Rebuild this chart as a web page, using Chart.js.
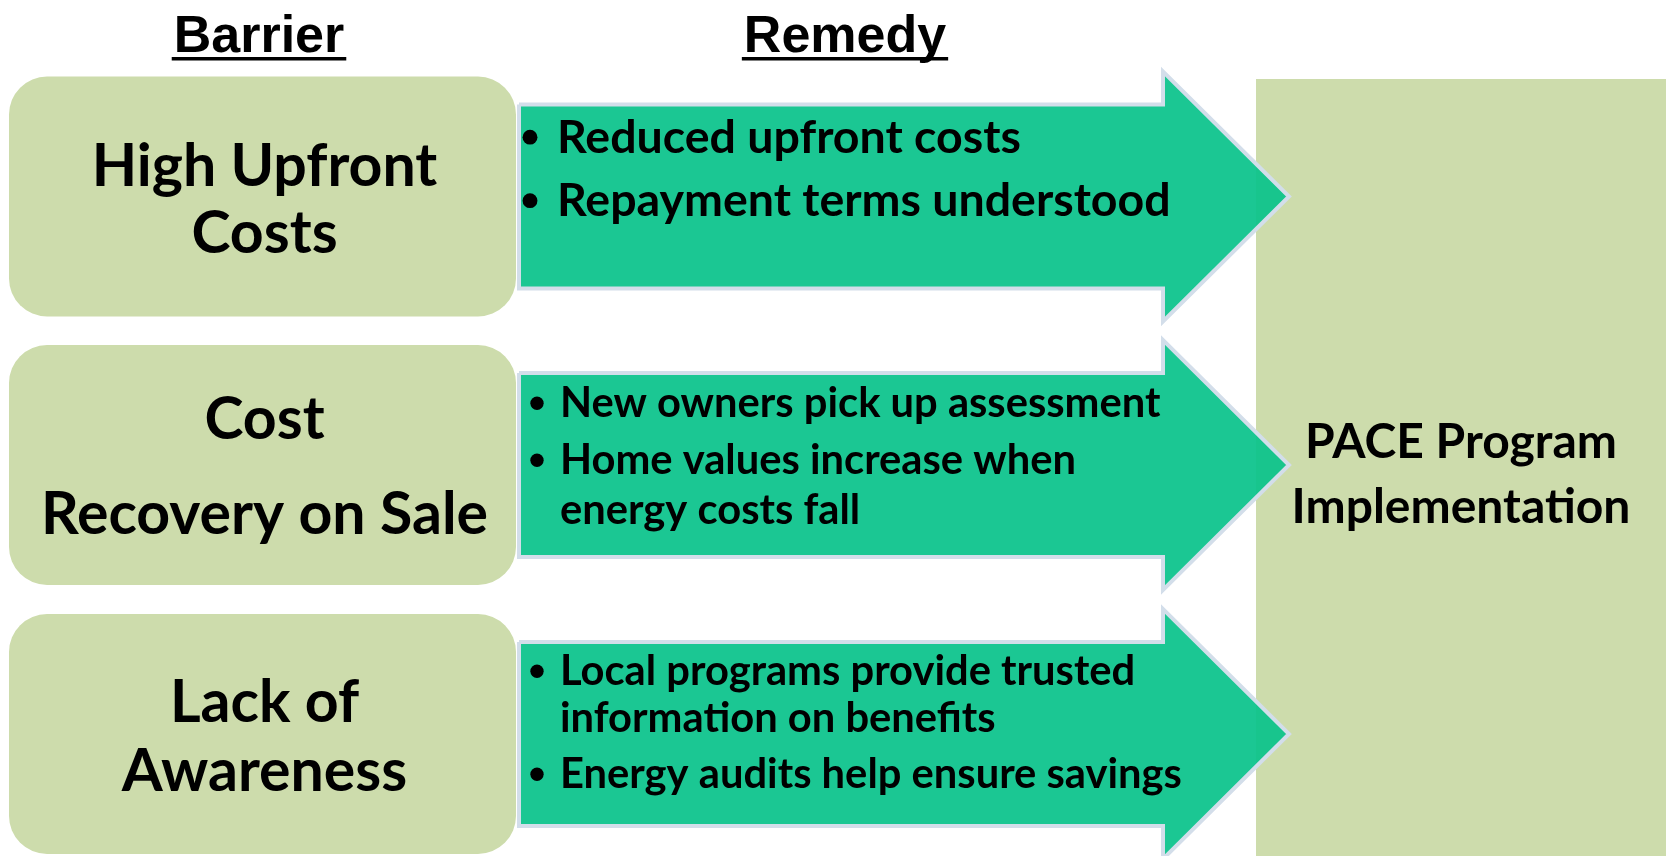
<!DOCTYPE html>
<html>
<head>
<meta charset="utf-8">
<script src="https://cdn.jsdelivr.net/npm/chart.js@4.4.1/dist/chart.umd.min.js"></script>
<style>
  html, body { margin: 0; padding: 0; background: #fff; }
  #diagram { display: block; }
</style>
</head>
<body>
<canvas id="diagram" width="1666" height="856"></canvas>
<script>
// column headers, barriers (left boxes), remedies (arrows), outcome (right box)
const headers = ['Barrier', 'Remedy'];
const barriers = [
  ['High Upfront', 'Costs'],
  ['Cost', 'Recovery on Sale'],
  ['Lack of', 'Awareness']
];
const remedies = [
  [['Reduced upfront costs'], ['Repayment terms understood']],
  [['New owners pick up assessment'], ['Home values increase when', 'energy costs fall']],
  [['Local programs provide trusted', 'information on benefits'], ['Energy audits help ensure savings']]
];
const outcome = ['PACE Program', 'Implementation'];

// layout in canvas units (x: 0..1666, y: 0..856 top-down)
const layout = {
  rowCenters: [196.5, 465, 734],
  box: { x0: 9, x1: 516, half: 120, r: 38 },
  arrow: { x0: 519, base: 1163, tip: 1289, shaft: 92, head: 125 },
  outcomeBox: { x0: 1256, x1: 1666, y0: 79, y1: 856 },
  headerX: [259, 845], headerBase: 52,
  barrierFont: 59,
  barrierBase: [[-10.5, 56.5], [-26, 69], [-12, 57]],
  remedyBase: [[-44, 19.5], [-48, 9, 59], [-49, -2, 54]],
  remedyFont: [46.5, 41.7, 41.7],
  bulletX: [530, 537, 537], textX: [557, 560, 560],
  outcomeFont: 48,
  outcomeBase: [458, 523]
};

const colors = {
  box: '#CDDCAC',
  arrow: 'rgba(10,195,139,0.93)',
  arrowEdge: '#D3DEEA',
  text: '#000000'
};

const bodyFont = '"Lato", "Open Sans", sans-serif';

function arrowPoints(c) {
  const a = layout.arrow;
  return [
    { x: a.x0, y: c - a.shaft }, { x: a.base, y: c - a.shaft }, { x: a.base, y: c - a.head },
    { x: a.tip, y: c }, { x: a.base, y: c + a.head }, { x: a.base, y: c + a.shaft },
    { x: a.x0, y: c + a.shaft }, { x: a.x0, y: c - a.shaft }
  ];
}

const arrowSets = layout.rowCenters.map((c, i) => ({
  label: 'remedy ' + (i + 1),
  data: arrowPoints(c),
  showLine: true,
  fill: 'shape',
  backgroundColor: colors.arrow,
  borderColor: colors.arrowEdge,
  borderWidth: 4,
  borderJoinStyle: 'miter',
  tension: 0,
  pointRadius: 0
}));

const diagramPlugin = {
  id: 'diagram',
  beforeDatasetsDraw(chart) {
    const { ctx, scales } = chart;
    const px = v => scales.x.getPixelForValue(v);
    const py = v => scales.y.getPixelForValue(v);
    ctx.save();
    ctx.fillStyle = colors.box;
    const o = layout.outcomeBox;
    ctx.fillRect(px(o.x0), py(o.y0), px(o.x1) - px(o.x0), py(o.y1) - py(o.y0));
    const b = layout.box;
    layout.rowCenters.forEach(c => {
      ctx.beginPath();
      ctx.roundRect(px(b.x0), py(c - b.half), px(b.x1) - px(b.x0), py(c + b.half) - py(c - b.half), b.r);
      ctx.fill();
    });
    ctx.restore();
  },
  afterDatasetsDraw(chart) {
    const { ctx, scales } = chart;
    const px = v => scales.x.getPixelForValue(v);
    const py = v => scales.y.getPixelForValue(v);
    ctx.save();
    ctx.fillStyle = colors.text;
    ctx.textBaseline = 'alphabetic';

    // headers, underlined
    ctx.font = 'bold 52px "Liberation Sans", Arial, sans-serif';
    ctx.textAlign = 'center';
    headers.forEach((h, i) => {
      const x = px(layout.headerX[i]);
      const y = py(layout.headerBase);
      ctx.fillText(h, x, y);
      const w = ctx.measureText(h).width;
      ctx.fillRect(x - w / 2 - 2, y + 5, w + 4, 3.5);
    });

    // barrier boxes
    ctx.font = 'bold ' + layout.barrierFont + 'px ' + bodyFont;
    const bx = (layout.box.x0 + layout.box.x1) / 2 + 2;
    barriers.forEach((lines, i) => {
      lines.forEach((t, j) => {
        ctx.fillText(t, px(bx), py(layout.rowCenters[i] + layout.barrierBase[i][j]));
      });
    });

    // remedies
    ctx.textAlign = 'left';
    remedies.forEach((items, i) => {
      const size = layout.remedyFont[i];
      ctx.font = 'bold ' + size + 'px ' + bodyFont;
      let k = 0;
      items.forEach(item => {
        item.forEach((t, j) => {
          const y = py(layout.rowCenters[i] + layout.remedyBase[i][k]);
          if (j === 0) {
            ctx.beginPath();
            ctx.arc(px(layout.bulletX[i]), y - size * 0.33, size * 0.16, 0, Math.PI * 2);
            ctx.fill();
          }
          ctx.fillText(t, px(layout.textX[i]), y);
          k++;
        });
      });
    });

    // outcome box
    ctx.textAlign = 'center';
    ctx.font = 'bold ' + layout.outcomeFont + 'px ' + bodyFont;
    const ox = (layout.outcomeBox.x0 + layout.outcomeBox.x1) / 2;
    outcome.forEach((t, j) => ctx.fillText(t, px(ox), py(layout.outcomeBase[j])));
    ctx.restore();
  }
};

const ctx = document.getElementById('diagram').getContext('2d');

const chart = new Chart(ctx, {
  type: 'scatter',
  data: { datasets: arrowSets },
  options: {
    responsive: false,
    animation: false,
    layout: { padding: 0 },
    scales: {
      x: { type: 'linear', min: 0, max: 1666, display: false },
      y: { type: 'linear', min: 0, max: 856, reverse: true, display: false }
    },
    plugins: {
      legend: { display: false },
      tooltip: { enabled: false }
    }
  },
  plugins: [diagramPlugin]
});
</script>
</body>
</html>
